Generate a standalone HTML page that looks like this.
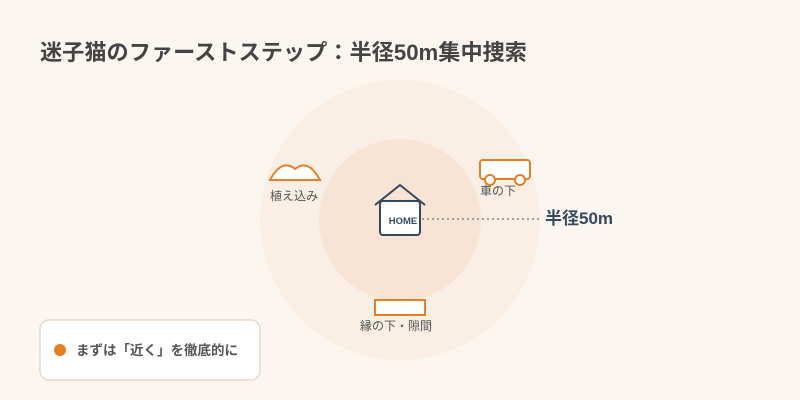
<!DOCTYPE html>
<html><head><meta charset="utf-8"><style>
html,body{margin:0;padding:0;background:#fbf7f0;}
svg{display:block;font-family:"Liberation Sans","Noto Sans CJK JP",sans-serif;}
</style></head><body>
<svg width="800" height="400" viewBox="0 0 800 400" xmlns="http://www.w3.org/2000/svg">
<rect x="0" y="0" width="800" height="400" rx="12" fill="#fbf7f0"/>
<text x="40" y="60" font-size="22" font-weight="bold" fill="#444" textLength="487" lengthAdjust="spacingAndGlyphs">迷子猫のファーストステップ：半径50m集中捜索</text>
<circle cx="400" cy="220" r="140" fill="#f9efe4"/>
<circle cx="400" cy="220" r="81" fill="#f8e4d5"/>
<line x1="422" y1="219" x2="540" y2="219" stroke="#7f8c8d" stroke-width="1.5" stroke-dasharray="2,3"/>
<polyline points="375,205 400,185 425,205" fill="none" stroke="#34495e" stroke-width="2"/>
<rect x="380" y="201" width="40" height="34" rx="3" fill="#fff" stroke="#34495e" stroke-width="2"/>
<text x="403" y="224" font-size="9.5" font-weight="bold" fill="#34495e" text-anchor="middle">HOME</text>
<text x="545" y="224" font-size="17" font-weight="bold" fill="#34495e">半径50m</text>
<path d="M270 180 Q 282 158 295 169 Q 308 158 320 180 Z" fill="#fff" stroke="#e67e22" stroke-width="2"/>
<text x="294" y="200" font-size="12" fill="#555" text-anchor="middle">植え込み</text>
<rect x="480" y="160" width="50" height="19" rx="3" fill="#fff" stroke="#e67e22" stroke-width="2"/>
<circle cx="490" cy="180" r="5" fill="#fff" stroke="#e67e22" stroke-width="2"/>
<circle cx="520" cy="180" r="5" fill="#fff" stroke="#e67e22" stroke-width="2"/>
<text x="498" y="195" font-size="12" fill="#555" text-anchor="middle">車の下</text>
<rect x="375" y="300" width="50" height="15" fill="#fff" stroke="#e67e22" stroke-width="2"/>
<text x="396" y="330" font-size="12" fill="#555" text-anchor="middle">縁の下・隙間</text>
<rect x="40" y="320" width="220" height="60" rx="9" fill="#fff" stroke="#e8d9c8" stroke-width="1.5"/>
<circle cx="60" cy="350" r="6" fill="#e67e22"/>
<text x="76" y="355" font-size="13.5" font-weight="bold" fill="#555">まずは「近く」を徹底的に</text>
</svg>
</body></html>
